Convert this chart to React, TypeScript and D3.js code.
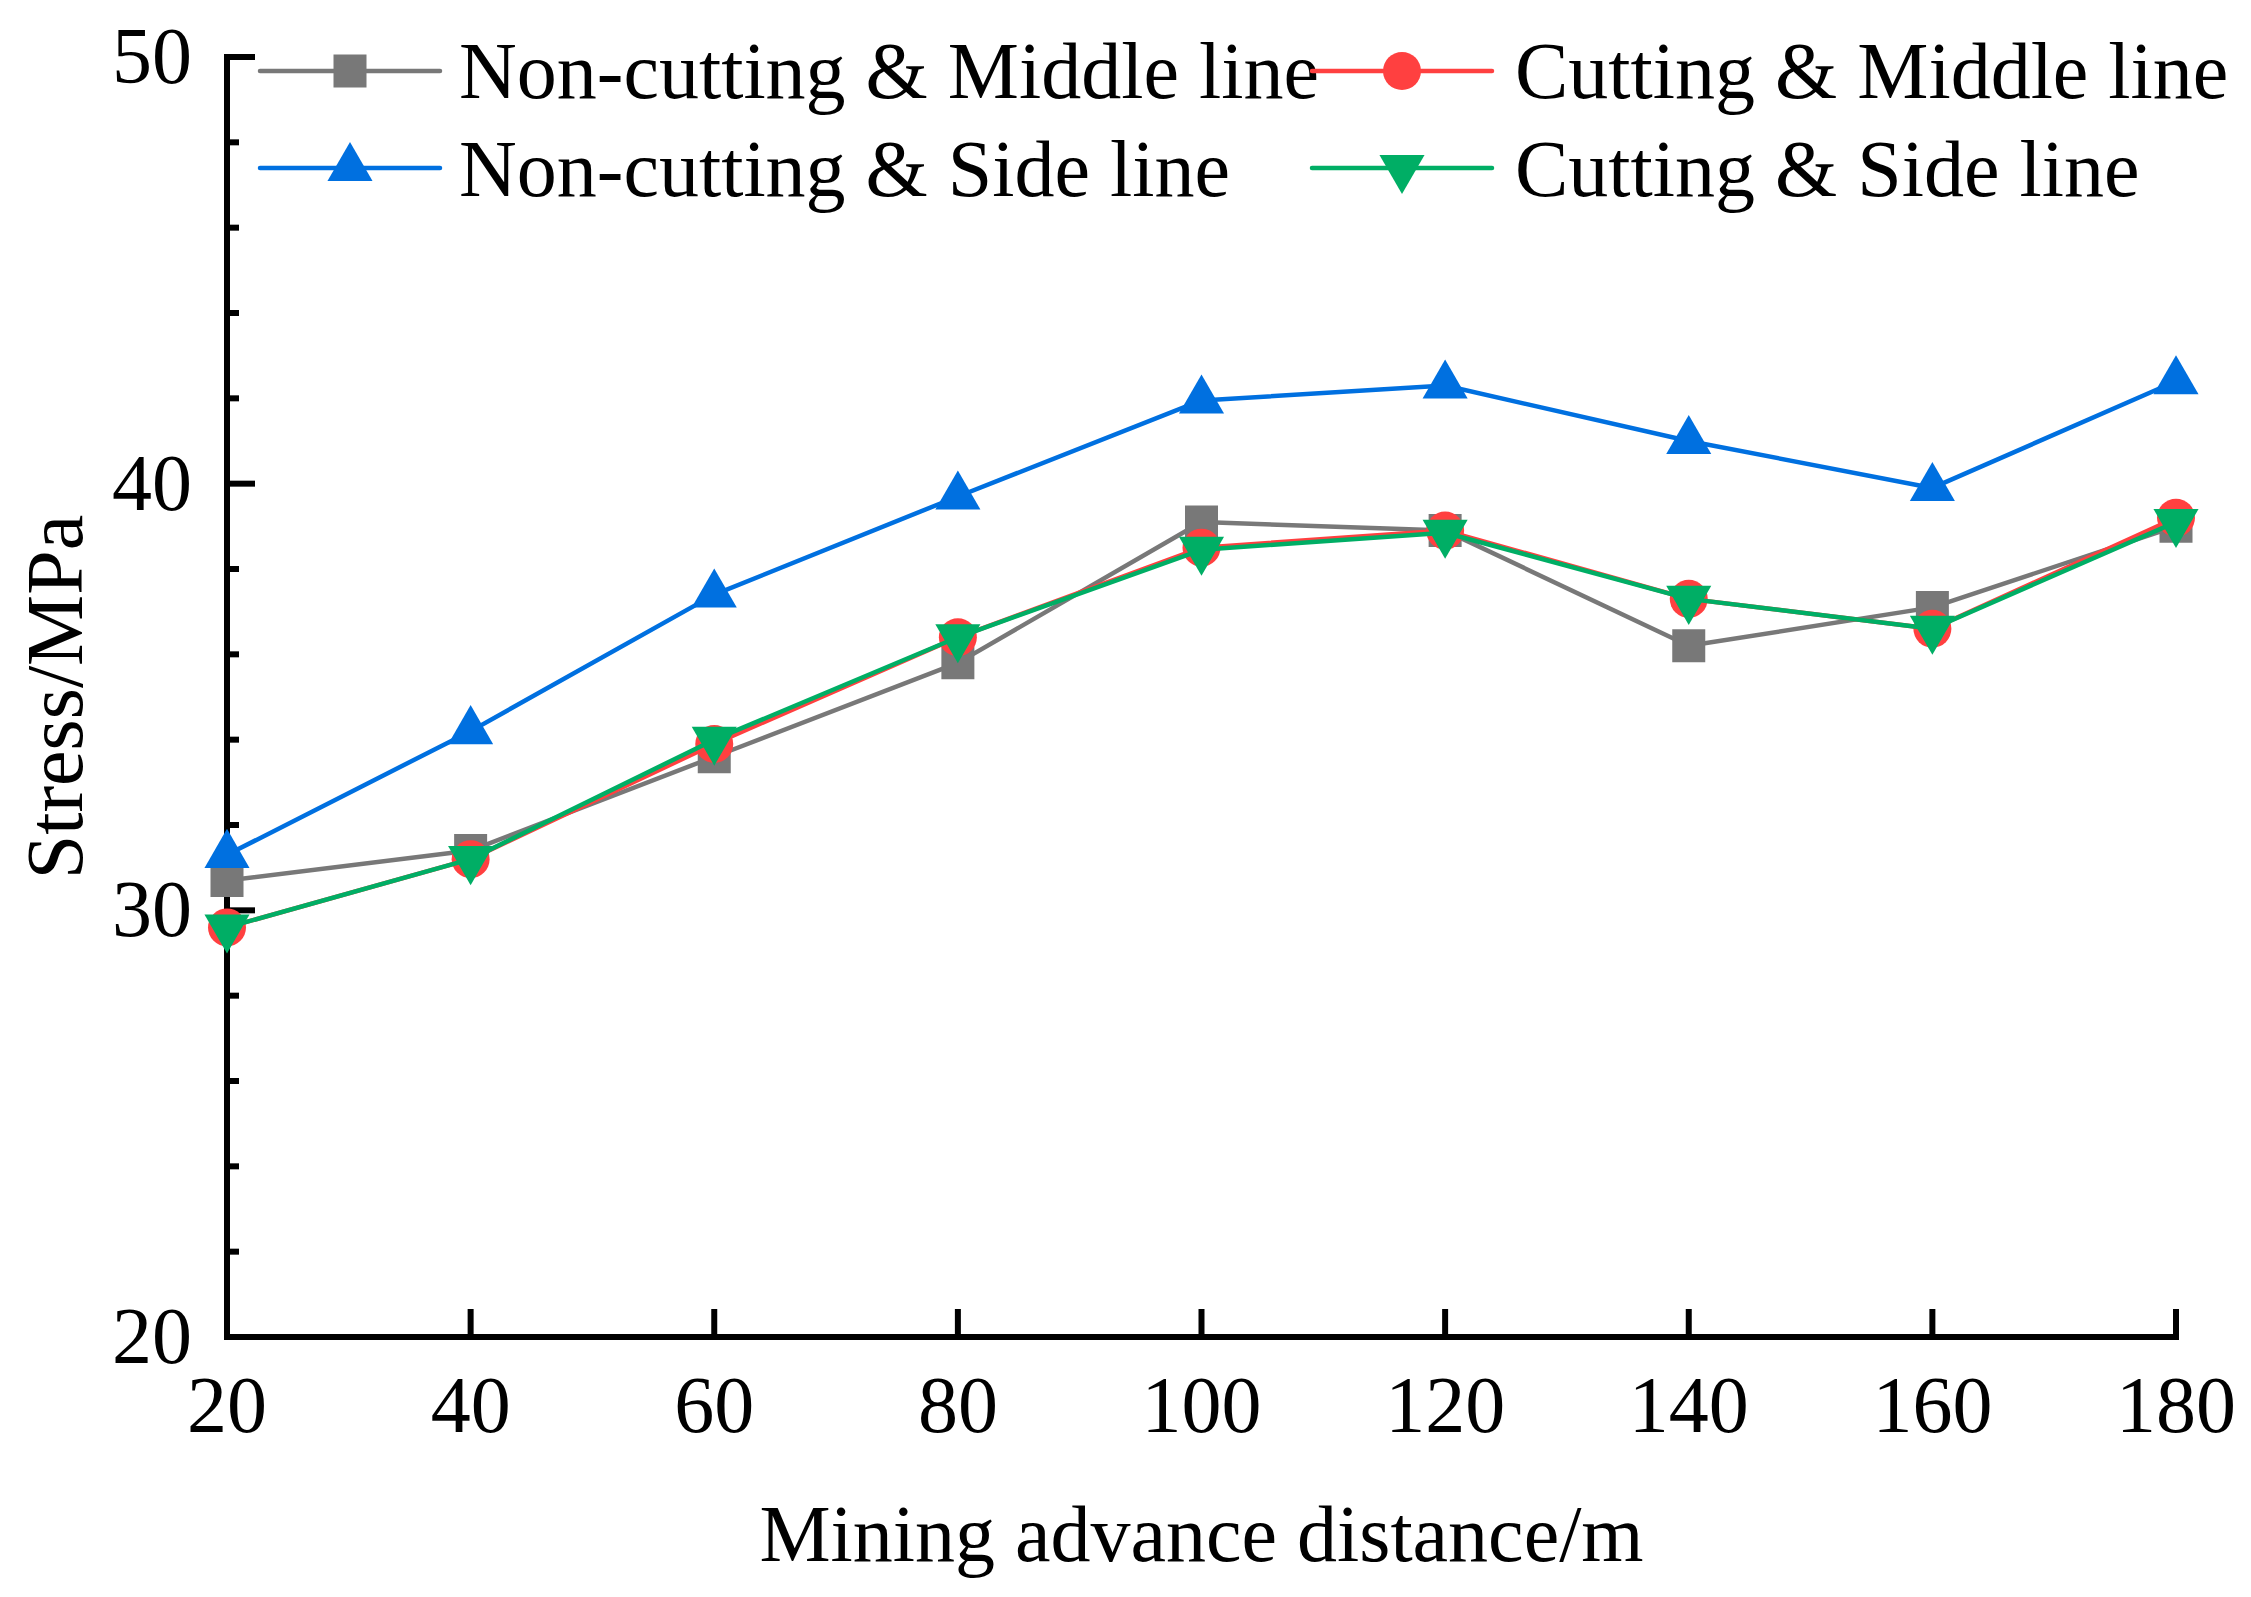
import { useEffect, useRef } from "react";
import * as d3 from "d3";

const distances = [20, 40, 60, 80, 100, 120, 140, 160, 180];
const nonCuttingMiddle = [30.7, 31.4, 33.6, 35.8, 39.1, 38.9, 36.2, 37.1, 39.0];
const nonCuttingSide = [31.3, 34.2, 37.4, 39.7, 41.95, 42.3, 41.0, 39.9, 42.4];
const cuttingMiddle = [29.6, 31.2, 33.9, 36.4, 38.5, 38.9, 37.3, 36.6, 39.2];
const cuttingSide = [29.6, 31.2, 34.0, 36.4, 38.45, 38.85, 37.3, 36.6, 39.1];

const yMajorTicks = [20, 30, 40, 50];
const yMinorTicks = [22, 24, 26, 28, 32, 34, 36, 38, 42, 44, 46, 48];
const xTicks = [20, 40, 60, 80, 100, 120, 140, 160, 180];

const FONT = "'Liberation Serif', 'Times New Roman', serif";

type Series = {
  name: string;
  values: number[];
  color: string;
  symbol: d3.SymbolType;
  size: number;
  rotate: number;
};

const SERIES: Series[] = [
  { name: "Non-cutting & Middle line", values: nonCuttingMiddle, color: "#787878", symbol: d3.symbolSquare, size: 1089, rotate: 0 },
  { name: "Cutting & Middle line", values: cuttingMiddle, color: "#ff4040", symbol: d3.symbolCircle, size: 1134, rotate: 0 },
  { name: "Non-cutting & Side line", values: nonCuttingSide, color: "#0070e0", symbol: d3.symbolTriangle, size: 880, rotate: 0 },
  { name: "Cutting & Side line", values: cuttingSide, color: "#00ae65", symbol: d3.symbolTriangle, size: 880, rotate: 180 },
];

export default function App() {
  const svgRef = useRef<SVGSVGElement>(null);

  useEffect(() => {
    document.body.style.margin = "0";
    if (!svgRef.current) return;
    const svg = d3.select(svgRef.current);
    svg.selectAll("*").remove();

    const width = 2251;
    const height = 1597;
    const left = 227, right = 2176, top = 57, bottom = 1337;

    const x = d3.scaleLinear().domain([20, 180]).range([left, right]);
    const y = d3.scaleLinear().domain([20, 50]).range([bottom, top]);

    svg.attr("width", width).attr("height", height);
    svg.append("rect").attr("width", width).attr("height", height).attr("fill", "#fff");

    // Axes
    const axes = svg.append("g").attr("stroke", "#000").attr("stroke-width", 6);
    axes.append("line").attr("x1", left).attr("x2", left).attr("y1", top - 3).attr("y2", bottom + 3);
    axes.append("line").attr("x1", left - 3).attr("x2", right + 3).attr("y1", bottom).attr("y2", bottom);

    yMajorTicks.forEach((v) => {
      axes.append("line").attr("x1", left).attr("x2", left + 28).attr("y1", y(v)).attr("y2", y(v));
    });
    yMinorTicks.forEach((v) => {
      axes.append("line").attr("x1", left).attr("x2", left + 12).attr("y1", y(v)).attr("y2", y(v));
    });
    xTicks.forEach((v) => {
      axes.append("line").attr("x1", x(v)).attr("x2", x(v)).attr("y1", bottom).attr("y2", bottom - 28);
    });

    const labels = svg.append("g").attr("font-family", FONT).attr("font-size", 80).attr("fill", "#000");
    yMajorTicks.forEach((v) => {
      labels.append("text").attr("x", left - 35).attr("y", y(v) + 26).attr("text-anchor", "end").text(v);
    });
    xTicks.forEach((v) => {
      labels.append("text").attr("x", x(v)).attr("y", bottom + 95).attr("text-anchor", "middle").text(v);
    });

    labels
      .append("text")
      .attr("x", (left + right) / 2)
      .attr("y", 1561)
      .attr("text-anchor", "middle")
      .text("Mining advance distance/m");

    labels
      .append("text")
      .attr("transform", `translate(82, ${(top + bottom) / 2}) rotate(-90)`)
      .attr("text-anchor", "middle")
      .text("Stress/MPa");

    // Series
    const line = d3
      .line<number>()
      .x((_, i) => x(distances[i]))
      .y((d) => y(d));

    SERIES.forEach((s) => {
      const g = svg.append("g");
      g.append("path")
        .attr("d", line(s.values))
        .attr("fill", "none")
        .attr("stroke", s.color)
        .attr("stroke-width", 4.5)
        .attr("stroke-linejoin", "round");
      const sym = d3.symbol().type(s.symbol).size(s.size)();
      g.selectAll("path.mk")
        .data(s.values)
        .enter()
        .append("path")
        .attr("class", "mk")
        .attr("d", sym)
        .attr("fill", s.color)
        .attr("transform", (d, i) => `translate(${x(distances[i])},${y(d)}) rotate(${s.rotate})`);
    });

    // Legend (2 columns, 2 rows)
    const legendPos = [
      { lx: 260, tx: 459, ly: 71, ty: 98 },
      { lx: 1312, tx: 1515, ly: 71, ty: 98 },
      { lx: 260, tx: 459, ly: 168, ty: 196 },
      { lx: 1312, tx: 1515, ly: 168, ty: 196 },
    ];
    SERIES.forEach((s, i) => {
      const p = legendPos[i];
      const g = svg.append("g");
      g.append("line")
        .attr("x1", p.lx)
        .attr("x2", p.lx + 180)
        .attr("y1", p.ly)
        .attr("y2", p.ly)
        .attr("stroke", s.color)
        .attr("stroke-width", 4.5)
        .attr("stroke-linecap", "round");
      g.append("path")
        .attr("d", d3.symbol().type(s.symbol).size(s.size)())
        .attr("fill", s.color)
        .attr("transform", `translate(${p.lx + 90},${p.ly}) rotate(${s.rotate})`);
      g.append("text")
        .attr("x", p.tx)
        .attr("y", p.ty)
        .attr("font-family", FONT)
        .attr("font-size", 80)
        .attr("fill", "#000")
        .text(s.name);
    });
  }, []);

  return <svg ref={svgRef} style={{ display: "block" }} />;
}
